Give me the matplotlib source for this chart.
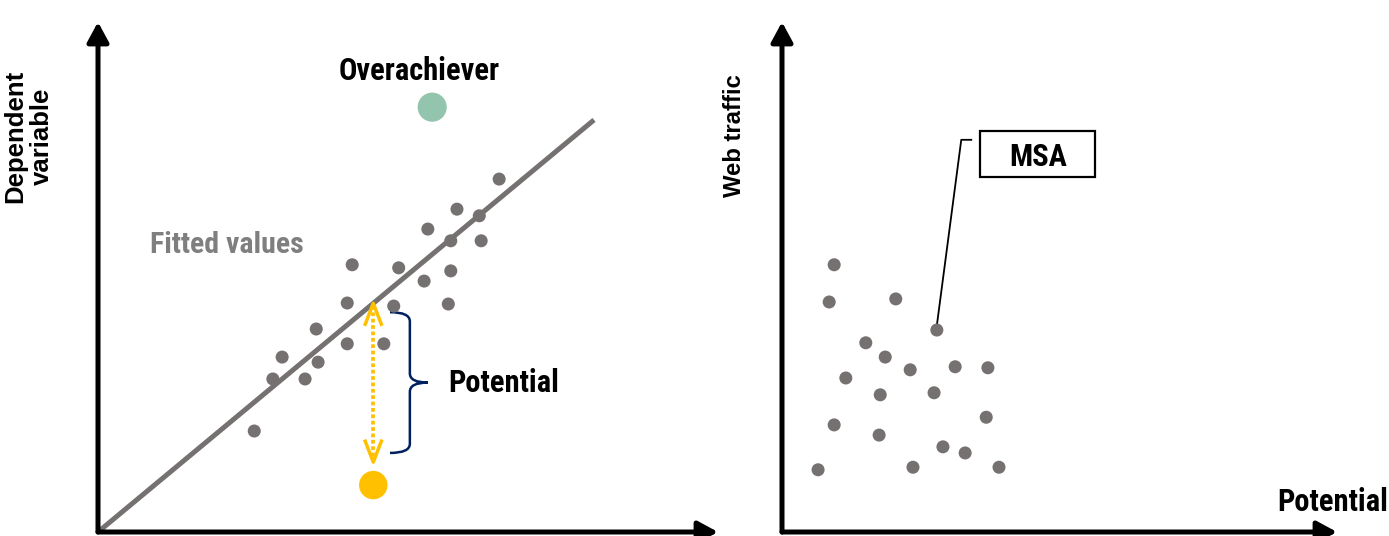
import numpy as np
import matplotlib.pyplot as plt
from matplotlib.path import Path
from matplotlib.patches import PathPatch, Rectangle

# left panel: regression scatter (arbitrary units, 0-100 on both axes)
reg_x = [25.2, 28.2, 29.7, 33.4, 35.2, 35.5, 40.2, 40.2, 41.0, 46.1, 47.7,
         48.5, 52.6, 53.2, 56.5, 56.9, 56.9, 57.9, 61.8, 61.5, 64.7]
reg_y = [19.8, 30.0, 34.3, 30.0, 39.8, 33.3, 44.9, 36.9, 52.4, 36.9, 44.3,
         51.8, 49.2, 59.4, 44.7, 57.1, 51.2, 63.3, 57.1, 62.0, 69.2]
fit_x = [0, 80]
fit_slope = 1.01
over_x, over_y = 53.9, 83.3      # overachiever
under_x, under_y = 44.4, 9.2     # underperformer
arrow_low = 13.7                 # bottom tip of the "potential" arrow
brace_top, brace_bot = 43.1, 15.5

# right panel: web traffic vs potential
pot_x = [9.4, 8.5, 20.5, 27.9, 15.1, 18.6, 23.1, 31.2, 37.1, 11.5,
         17.7, 27.4, 36.8, 9.4, 17.5, 29.0, 33.0, 23.6, 39.1, 6.5]
web_y = [52.4, 45.1, 45.7, 39.6, 37.1, 34.3, 31.8, 32.4, 32.2, 30.2,
         26.9, 27.3, 22.5, 21.0, 19.0, 16.7, 15.5, 12.7, 12.7, 12.2]
msa_idx = 3

GREY = "#767171"
COND = dict(family=["Roboto Condensed", "Liberation Sans"], fontweight="bold")
ARIAL = dict(family=["Liberation Sans", "DejaVu Sans"], fontweight="bold")

fig = plt.figure(figsize=(13.89, 5.36), dpi=100)
ax1 = fig.add_axes([98 / 1389, 4 / 536, 620 / 1389, 510 / 536])
ax2 = fig.add_axes([782 / 1389, 4 / 536, 555 / 1389, 510 / 536])
for ax in (ax1, ax2):
    ax.set_xlim(0, 100)
    ax.set_ylim(0, 100)
    ax.axis("off")
    # arrowed axes
    for tip in [(100, 0), (0, 100)]:
        ax.annotate("", xy=tip, xytext=(0, 0), annotation_clip=False,
                    arrowprops=dict(arrowstyle="-|>,head_length=1.2,head_width=0.65",
                                    mutation_scale=10, lw=3.6, color="black",
                                    shrinkA=0, shrinkB=0))

# ---- left panel ----
fx = np.array(fit_x)
ax1.plot(fx, fit_slope * fx, color=GREY, lw=3.6, solid_capstyle="butt", clip_on=False, zorder=2)
ax1.scatter(reg_x, reg_y, s=88, color=GREY, edgecolors="none", zorder=3, clip_on=False)
ax1.scatter([over_x], [over_y], s=440, color="#93C4AD", edgecolors="none", zorder=3, clip_on=False)
ax1.scatter([under_x], [under_y], s=420, color="#FFC000", edgecolors="none", zorder=3, clip_on=False)

# dotted double arrow between fitted value and actual value
top = fit_slope * under_x
ax1.plot([under_x, under_x], [top - 0.5, arrow_low + 0.5], color="#FFC000", lw=2.7,
         linestyle=(0, (1, 0.7)), dash_capstyle="butt", zorder=4)
hw, hl = 1.3, 4.1
ax1.plot([under_x - hw, under_x, under_x + hw], [top - hl, top, top - hl],
         color="#FFC000", lw=2.5, zorder=4)
ax1.plot([under_x - hw, under_x, under_x + hw], [arrow_low + hl, arrow_low, arrow_low + hl],
         color="#FFC000", lw=2.5, zorder=4)

# curly brace
x0, xm, xp = 47.1, 50.3, 53.2
ym = (brace_top + brace_bot) / 2
r = 1.8
verts = [(x0, brace_top), (xm, brace_top), (xm, brace_top - r),
         (xm, ym + r), (xm, ym), (xp, ym),
         (xm, ym), (xm, ym - r),
         (xm, brace_bot + r), (xm, brace_bot), (x0, brace_bot)]
codes = [Path.MOVETO, Path.CURVE3, Path.CURVE3,
         Path.LINETO, Path.CURVE3, Path.CURVE3,
         Path.CURVE3, Path.CURVE3,
         Path.LINETO, Path.CURVE3, Path.CURVE3]
ax1.add_patch(PathPatch(Path(verts, codes), fill=False, edgecolor="#002060", lw=1.8))

ax1.text(56.5, 27.5, "Potential", fontsize=22, va="baseline", **COND)
ax1.text(51.8, 88.6, "Overachiever", fontsize=22, ha="center", va="baseline", **COND)
ax1.text(8.4, 54.7, "Fitted values", fontsize=21.5, color="#7F7F7F", va="baseline", **COND)
ax1.text(-11.2, 77.5, "Dependent\nvariable", fontsize=18.5, rotation=90, ha="center",
         va="center", multialignment="center", linespacing=1.15, **ARIAL)

# ---- right panel ----
ax2.scatter(pot_x, web_y, s=88, color=GREY, edgecolors="none", zorder=3, clip_on=False)
mx, my = pot_x[msa_idx], web_y[msa_idx]
ax2.plot([mx, 32.3, 34.1], [my + 0.9, 76.9, 76.9], color="black", lw=1.3, zorder=2)
ax2.add_patch(Rectangle((35.7, 69.6), 20.7, 9.0, facecolor="white", edgecolor="black",
                        lw=1.6, clip_on=False))
ax2.text(46.1, 74.1, "MSA", fontsize=22, ha="center", va="center_baseline", **COND)
ax2.text(109.2, 4.1, "Potential", fontsize=22, ha="right", va="baseline", **COND)
ax2.text(-8.6, 77.8, "Web traffic", fontsize=17.2, rotation=90, ha="center", va="center", **ARIAL)

fig.savefig("out.png", dpi=100)
